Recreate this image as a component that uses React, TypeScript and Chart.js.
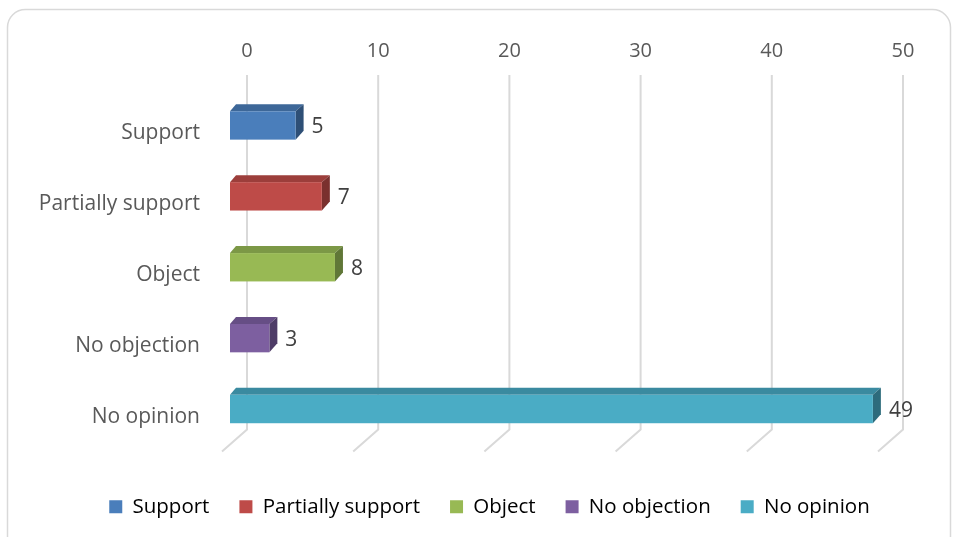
import React, { useEffect, useRef } from 'react';
import { Chart, registerables } from 'chart.js';

Chart.register(...registerables);

const categories = ['Support', 'Partially support', 'Object', 'No objection', 'No opinion'];
const values = [5, 7, 8, 3, 49];
const xMin = 0;
const xMax = 50;
const xStep = 10;
const frontColors = ['#4a7ebb', '#be4b48', '#98b954', '#7d5fa0', '#4aacc5'];
const topColors = ['#3d6798', '#9c3e3b', '#7c9846', '#664e85', '#3a8aa0'];
const sideColors = ['#2e4f76', '#7a302e', '#607737', '#4e3c67', '#2d6b7c'];

const FONT = '"Open Sans", sans-serif';

const deco = {
  id: 'deco',
  beforeDraw(chart: any) {
    const ctx = chart.ctx;
    ctx.save();
    ctx.strokeStyle = '#d9d9d9';
    ctx.lineWidth = 1.5;
    ctx.beginPath();
    (ctx as any).roundRect(7.5, 9.5, 943, 545, 18);
    ctx.stroke();
    // gridlines with 3D floor
    const xs = chart.scales.x;
    const area = chart.chartArea;
    ctx.strokeStyle = '#d9d9d9';
    ctx.lineWidth = 2;
    xs.ticks.forEach((t: any) => {
      const px = xs.getPixelForValue(t.value);
      ctx.beginPath();
      ctx.moveTo(px, area.top - 5);
      ctx.lineTo(px, area.bottom - 5);
      ctx.lineTo(px - 25, area.bottom + 17);
      ctx.stroke();
    });
    ctx.restore();
  },
  beforeDatasetDraw() {
    return false;
  },
  afterDatasetsDraw(chart: any) {
    const ctx = chart.ctx;
    const meta = chart.getDatasetMeta(0);
    const dx = 8, dy = -7, shiftX = -17, shiftY = 10;
    ctx.save();
    meta.data.forEach((el: any, i: number) => {
      const { x, y, base, height } = el.getProps(['x', 'y', 'base', 'height'], true);
      const l = base + shiftX;
      const r = x + shiftX;
      const t = y + shiftY - height / 2;
      const b = t + height;
      ctx.fillStyle = topColors[i];
      ctx.beginPath();
      ctx.moveTo(l, t);
      ctx.lineTo(l + dx - 2, t + dy);
      ctx.lineTo(r + dx, t + dy);
      ctx.lineTo(r, t);
      ctx.closePath();
      ctx.fill();
      ctx.fillStyle = sideColors[i];
      ctx.beginPath();
      ctx.moveTo(r, t);
      ctx.lineTo(r + dx, t + dy);
      ctx.lineTo(r + dx, b + dy - 2);
      ctx.lineTo(r, b);
      ctx.closePath();
      ctx.fill();
      ctx.fillStyle = frontColors[i];
      ctx.fillRect(l, t, r - l, b - t);
      ctx.fillStyle = '#404040';
      ctx.font = '21px ' + FONT;
      ctx.textAlign = 'left';
      ctx.textBaseline = 'middle';
      ctx.fillText(String(values[i]), r + 16, y + shiftY + 2);
    });
    ctx.restore();
  },
};

export default function App() {
  const ref = useRef<HTMLCanvasElement>(null);
  useEffect(() => {
    const prev = document.body.style.margin;
    document.body.style.margin = '0';
    const chart = new Chart(ref.current as HTMLCanvasElement, {
      type: 'bar',
      data: {
        labels: categories,
        datasets: [
          {
            label: 'Responses',
            data: values,
            backgroundColor: frontColors,
            barPercentage: 0.4,
            categoryPercentage: 1.0,
          },
        ],
      },
      options: {
        indexAxis: 'y',
        responsive: false,
        animation: false,
        devicePixelRatio: 1,
        layout: { padding: { left: 26, right: 0, top: 0, bottom: 10 } },
        scales: {
          x: {
            position: 'top',
            min: xMin,
            max: xMax,
            grid: { display: false },
            border: { display: false },
            ticks: {
              stepSize: xStep,
              padding: 9,
              color: '#595959',
              font: { family: FONT, size: 20 },
            },
            afterFit(s: any) {
              s.height = 80;
            },
          },
          x2: {
            type: 'linear',
            position: 'bottom',
            display: true,
            grid: { display: false },
            border: { display: false },
            ticks: { display: false },
            afterFit(s: any) {
              s.height = 32;
            },
          },
          y: {
            grid: { display: false },
            border: { display: false },
            ticks: {
              padding: 39,
              labelOffset: 18,
              autoSkip: false,
              color: '#595959',
              font: { family: FONT, size: 21 },
            },
            afterFit(s: any) {
              s.width = 221;
            },
          },
          y2: {
            type: 'linear',
            position: 'right',
            display: true,
            grid: { display: false },
            border: { display: false },
            ticks: { display: false },
            afterFit(s: any) {
              s.width = 50;
            },
          },
        },
        plugins: {
          tooltip: { enabled: false },
          legend: {
            position: 'bottom',
            onClick: () => {},
            labels: {
              boxWidth: 13,
              boxHeight: 13,
              padding: 30,
              color: '#595959',
              font: { family: FONT, size: 20.5 },
              generateLabels: () =>
                categories.map((c, i) => ({
                  text: c,
                  fillStyle: frontColors[i],
                  strokeStyle: frontColors[i],
                  lineWidth: 0,
                  hidden: false,
                  index: i,
                  datasetIndex: 0,
                })),
            },
          },
        },
      },
      plugins: [deco],
    } as any);
    return () => {
      chart.destroy();
      document.body.style.margin = prev;
    };
  }, []);
  return (
    <div style={{ width: 953, height: 537 }}>
      <canvas ref={ref} width={953} height={537} style={{ display: 'block' }} />
    </div>
  );
}
